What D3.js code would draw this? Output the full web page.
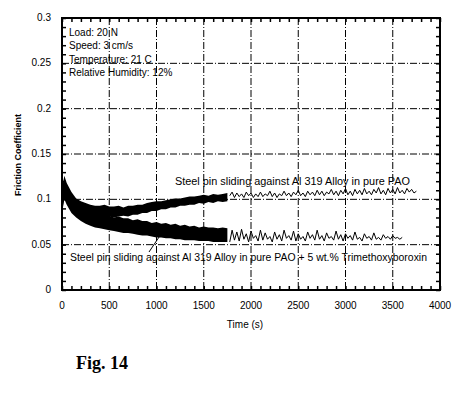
<!DOCTYPE html>
<html lang="en">
<head>
  <meta charset="UTF-8">
  <title>Fig. 14</title>
  <script src="https://d3js.org/d3.v7.min.js"></script>
  <style>
    body { margin: 0; background: #fff; }
    svg text { font-family: Arial, "Liberation Sans", sans-serif; fill: #000; }
    svg text.fig { font-family: "Liberation Serif", "DejaVu Serif", serif; font-weight: bold; }
    .grid line { stroke: #000; stroke-width: 1; stroke-dasharray: 7,2,1,2; }
  </style>
</head>
<body>
  <svg width="455" height="401"></svg>

  <script>
    // band part (noisy, dense data) : time, upper/lower envelope
    const bandTime = [0, 25, 50, 100, 150, 200, 250, 300, 350, 400, 450, 500, 550, 600, 650, 700, 750, 800, 850, 900,
                      950, 1000, 1050, 1100, 1150, 1200, 1250, 1300, 1350, 1400, 1450, 1500, 1550, 1600, 1650, 1700, 1750];
    const paoUpper = [0.112, 0.126, 0.118, 0.108, 0.101, 0.098, 0.096, 0.094, 0.093, 0.093, 0.094, 0.092, 0.092, 0.093, 0.091, 0.093, 0.093, 0.094, 0.094, 0.096,
                      0.097, 0.098, 0.098, 0.099, 0.100, 0.101, 0.101, 0.102, 0.103, 0.103, 0.104, 0.105, 0.104, 0.106, 0.105, 0.106, 0.107];
    const paoLower = [0.085, 0.105, 0.100, 0.092, 0.087, 0.085, 0.083, 0.082, 0.081, 0.080, 0.081, 0.081, 0.080, 0.081, 0.082, 0.081, 0.083, 0.083, 0.085, 0.085,
                      0.087, 0.087, 0.089, 0.089, 0.091, 0.091, 0.093, 0.093, 0.094, 0.094, 0.096, 0.095, 0.097, 0.096, 0.098, 0.097, 0.098];
    const tmbUpper = [0.112, 0.124, 0.115, 0.104, 0.097, 0.093, 0.090, 0.088, 0.085, 0.085, 0.082, 0.082, 0.080, 0.081, 0.079, 0.079, 0.077, 0.078, 0.076, 0.076,
                      0.074, 0.075, 0.073, 0.074, 0.072, 0.073, 0.071, 0.072, 0.070, 0.071, 0.069, 0.070, 0.069, 0.069, 0.068, 0.069, 0.068];
    const tmbLower = [0.085, 0.100, 0.094, 0.085, 0.080, 0.076, 0.073, 0.071, 0.069, 0.068, 0.067, 0.066, 0.065, 0.064, 0.063, 0.063, 0.062, 0.061, 0.060, 0.060,
                      0.059, 0.058, 0.058, 0.057, 0.057, 0.056, 0.056, 0.055, 0.055, 0.055, 0.054, 0.054, 0.054, 0.053, 0.053, 0.053, 0.053];

    // sparse tail after 1750 s, one value every 25 s
    const tailStart = 1775, tailStep = 25;
    const paoTail = [0.104, 0.108, 0.102, 0.107, 0.103, 0.106, 0.102, 0.108, 0.104, 0.107, 0.102, 0.106, 0.103, 0.108, 0.103, 0.106, 0.104, 0.109, 0.103, 0.107,
                     0.102, 0.106, 0.104, 0.109, 0.104, 0.107, 0.103, 0.108, 0.105, 0.110, 0.104, 0.107, 0.103, 0.109, 0.105, 0.108, 0.104, 0.110, 0.105, 0.109,
                     0.104, 0.108, 0.106, 0.111, 0.105, 0.109, 0.104, 0.110, 0.106, 0.112, 0.105, 0.109, 0.104, 0.111, 0.106, 0.110, 0.105, 0.112, 0.106, 0.109,
                     0.105, 0.111, 0.107, 0.113, 0.106, 0.110, 0.105, 0.112, 0.107, 0.111, 0.106, 0.113, 0.107, 0.110, 0.106, 0.112, 0.108, 0.111, 0.107, 0.109];
    const tmbTail = [0.053, 0.066, 0.055, 0.064, 0.054, 0.067, 0.056, 0.062, 0.053, 0.065, 0.057, 0.060, 0.054, 0.066, 0.055, 0.063, 0.056, 0.059, 0.053, 0.064,
                     0.056, 0.061, 0.054, 0.066, 0.057, 0.060, 0.055, 0.065, 0.054, 0.062, 0.056, 0.059, 0.054, 0.064, 0.057, 0.061, 0.055, 0.066, 0.056, 0.060,
                     0.054, 0.063, 0.057, 0.059, 0.055, 0.065, 0.056, 0.061, 0.054, 0.062, 0.057, 0.060, 0.055, 0.064, 0.056, 0.058, 0.054, 0.062, 0.057, 0.059,
                     0.055, 0.063, 0.056, 0.058, 0.055, 0.061, 0.057, 0.059, 0.056, 0.060, 0.057, 0.058, 0.056, 0.058];

    const xTicks = [0, 500, 1000, 1500, 2000, 2500, 3000, 3500, 4000];
    const yTicks = [0, 0.05, 0.1, 0.15, 0.2, 0.25, 0.3];
    const conditions = ["Load: 20 N", "Speed: 3 cm/s", "Temperature: 21 C", "Relative Humidity: 12%"];

    const svg = d3.select("svg");
    const m = { left: 62, right: 440, top: 18, bottom: 290 };

    const x = d3.scaleLinear().domain([0, 4000]).range([m.left, m.right]);
    const y = d3.scaleLinear().domain([0, 0.3]).range([m.bottom, m.top]);

    // grid
    const grid = svg.append("g").attr("class", "grid");
    grid.selectAll(".vx").data(xTicks.slice(1, -1)).enter().append("line")
        .attr("x1", d => x(d)).attr("x2", d => x(d))
        .attr("y1", m.top).attr("y2", m.bottom);
    grid.selectAll(".hy").data(yTicks.slice(1, -1)).enter().append("line")
        .attr("y1", d => y(d)).attr("y2", d => y(d))
        .attr("x1", m.left).attr("x2", m.right);

    // bands
    const bandArea = (up, lo) => d3.area()
        .x((d, i) => x(bandTime[i]))
        .y0((d, i) => y(lo[i]))
        .y1((d, i) => y(up[i]));

    svg.append("path").datum(paoUpper).attr("d", bandArea(paoUpper, paoLower)).attr("fill", "#000");
    svg.append("path").datum(tmbUpper).attr("d", bandArea(tmbUpper, tmbLower)).attr("fill", "#000");

    const tailLine = d3.line()
        .x((d, i) => x(tailStart + i * tailStep))
        .y(d => y(d));

    svg.append("path").datum(paoTail).attr("d", tailLine)
        .attr("fill", "none").attr("stroke", "#000").attr("stroke-width", 1);
    svg.append("path").datum(tmbTail).attr("d", tailLine)
        .attr("fill", "none").attr("stroke", "#000").attr("stroke-width", 1);

    // axes: inward ticks on all four sides
    const xAxisB = d3.axisBottom(x).tickValues(d3.range(0, 4001, 100)).tickSize(-4).tickFormat("");
    const xAxisT = d3.axisTop(x).tickValues(d3.range(0, 4001, 100)).tickSize(-4).tickFormat("");
    const yAxisL = d3.axisLeft(y).tickValues(d3.range(0, 0.3001, 0.01)).tickSize(-4).tickFormat("");
    const yAxisR = d3.axisRight(y).tickValues(d3.range(0, 0.3001, 0.01)).tickSize(-4).tickFormat("");

    [[xAxisB, `translate(0,${m.bottom})`], [xAxisT, `translate(0,${m.top})`],
     [yAxisL, `translate(${m.left},0)`], [yAxisR, `translate(${m.right},0)`]].forEach(([ax, tr]) => {
      const g = svg.append("g").attr("transform", tr).call(ax);
      g.select(".domain").remove();
      g.selectAll("line").attr("stroke", "#000").attr("stroke-width", 1.5);
    });

    svg.append("rect")
        .attr("x", m.left).attr("y", m.top)
        .attr("width", m.right - m.left).attr("height", m.bottom - m.top)
        .attr("fill", "none").attr("stroke", "#000").attr("stroke-width", 2);

    // tick labels
    svg.selectAll(".xl").data(xTicks).enter().append("text")
        .attr("x", d => x(d)).attr("y", 309)
        .attr("text-anchor", "middle").attr("font-size", 10)
        .text(d => d);
    svg.selectAll(".yl").data(yTicks).enter().append("text")
        .attr("x", 51).attr("y", d => y(d) + 3)
        .attr("text-anchor", "end").attr("font-size", 10)
        .text(d => d);

    svg.append("text").attr("x", 245).attr("y", 328)
        .attr("text-anchor", "middle").attr("font-size", 10).text("Time (s)");
    svg.append("text")
        .attr("transform", `translate(21,155) rotate(-90)`)
        .attr("text-anchor", "middle").attr("font-size", 9).attr("font-weight", "bold")
        .text("Friction Coefficient");

    // test conditions
    svg.selectAll(".cond").data(conditions).enter().append("text")
        .attr("x", 69).attr("y", (d, i) => 36 + i * 13.3)
        .attr("font-size", 10).text(d => d);

    // annotations
    svg.append("text").attr("x", 175).attr("y", 185).attr("font-size", 10)
        .attr("textLength", 235).attr("lengthAdjust", "spacingAndGlyphs")
        .text("Steel pin sliding against Al 319 Alloy in pure PAO");
    svg.append("text").attr("x", 70).attr("y", 261).attr("font-size", 10)
        .attr("textLength", 357).attr("lengthAdjust", "spacingAndGlyphs")
        .text("Steel pin sliding against Al 319 Alloy in pure PAO + 5 wt.% Trimethoxyboroxin");
    svg.append("line")
        .attr("x1", 149).attr("y1", 252).attr("x2", x(1050)).attr("y2", y(0.062))
        .attr("stroke", "#000").attr("stroke-width", 1);

    svg.append("text").attr("class", "fig").attr("x", 76).attr("y", 369)
        .attr("font-size", 18)
        .text("Fig. 14");
  </script>
</body>
</html>
